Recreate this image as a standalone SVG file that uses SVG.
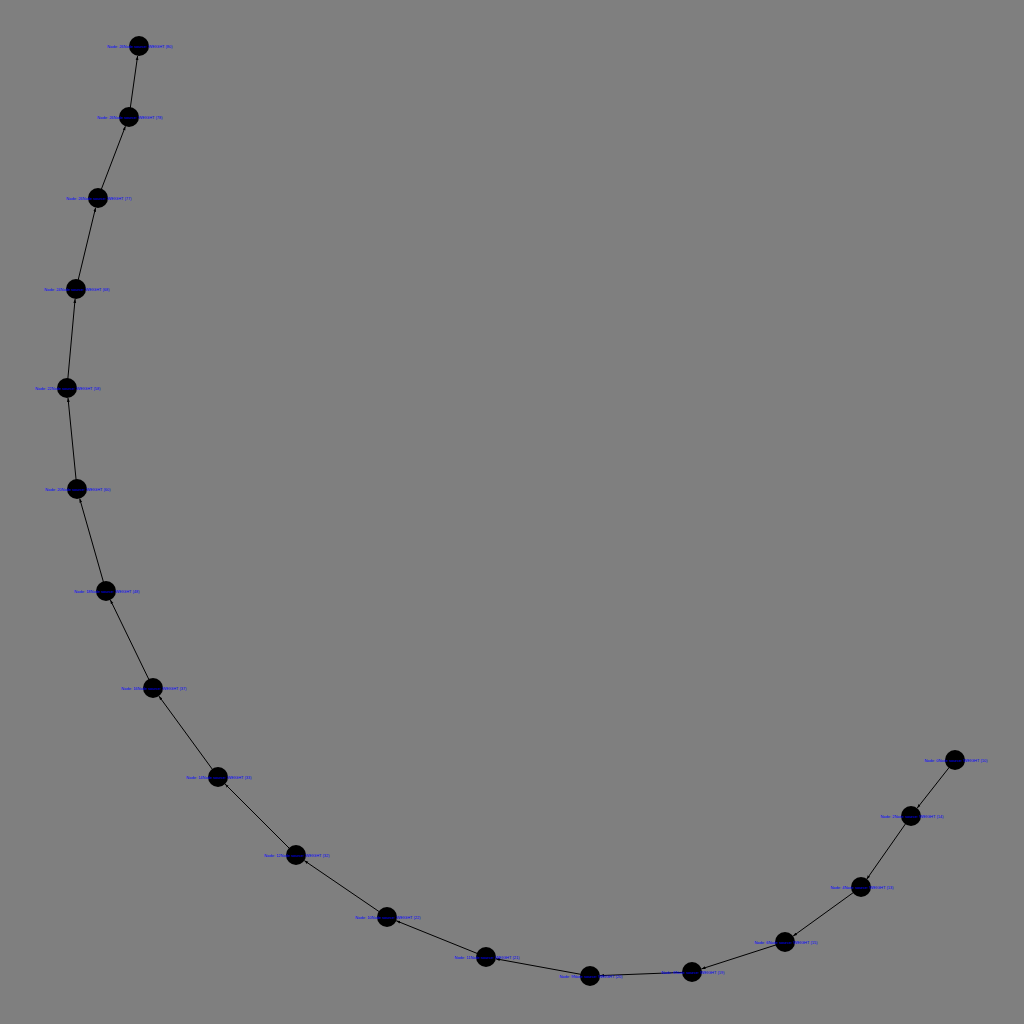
<svg xmlns="http://www.w3.org/2000/svg" width="1024" height="1024" viewBox="0 0 1024 1024">
<style>
.n{fill:#000}
.e{stroke:#000;stroke-width:1;fill:none;marker-end:url(#a)}
.t{font-family:"Liberation Sans",Arial,sans-serif;font-size:4px;fill:#0000ff;text-anchor:middle}
</style>
<defs>
<marker id="a" viewBox="0 0 10 10" refX="10" refY="5" markerWidth="4" markerHeight="4" orient="auto" markerUnits="userSpaceOnUse">
<path d="M0,1.5 L10,5 L0,8.5 z" fill="#000"/>
</marker>
</defs>
<rect width="1024" height="1024" fill="#7f7f7f"/>
<g id="edges">
<line class="e" x1="129" y1="117" x2="137.6" y2="56"/>
<line class="e" x1="98" y1="198" x2="125.4" y2="126.3"/>
<line class="e" x1="76" y1="289" x2="95.6" y2="207.7"/>
<line class="e" x1="67" y1="388" x2="75.1" y2="299"/>
<line class="e" x1="77" y1="489" x2="68" y2="398"/>
<line class="e" x1="106" y1="591" x2="79.7" y2="498.6"/>
<line class="e" x1="153" y1="688" x2="110.4" y2="600"/>
<line class="e" x1="218" y1="777" x2="158.9" y2="696.1"/>
<line class="e" x1="296" y1="855" x2="225.1" y2="784.1"/>
<line class="e" x1="387" y1="917" x2="304.3" y2="860.6"/>
<line class="e" x1="486" y1="957" x2="396.3" y2="920.8"/>
<line class="e" x1="590" y1="976" x2="495.8" y2="958.8"/>
<line class="e" x1="692" y1="972" x2="600" y2="975.6"/>
<line class="e" x1="785" y1="942" x2="701.5" y2="968.9"/>
<line class="e" x1="861" y1="887" x2="793.1" y2="936.1"/>
<line class="e" x1="911" y1="816" x2="866.7" y2="879.2"/>
<line class="e" x1="955" y1="760" x2="917.2" y2="808.1"/>
</g>
<g id="node1"><circle class="n" cx="139" cy="46" r="10"/><text class="t" x="140" y="47.5">Node: 26Node source: WEIGHT (80)</text></g>
<g id="node2"><circle class="n" cx="129" cy="117" r="10"/><text class="t" x="130" y="118.5">Node: 26Node source: WEIGHT (78)</text></g>
<g id="node3"><circle class="n" cx="98" cy="198" r="10"/><text class="t" x="99" y="199.5">Node: 26Node source: WEIGHT (77)</text></g>
<g id="node4"><circle class="n" cx="76" cy="289" r="10"/><text class="t" x="77" y="290.5">Node: 24Node source: WEIGHT (68)</text></g>
<g id="node5"><circle class="n" cx="67" cy="388" r="10"/><text class="t" x="68" y="389.5">Node: 22Node source: WEIGHT (58)</text></g>
<g id="node6"><circle class="n" cx="77" cy="489" r="10"/><text class="t" x="78" y="490.5">Node: 20Node source: WEIGHT (60)</text></g>
<g id="node7"><circle class="n" cx="106" cy="591" r="10"/><text class="t" x="107" y="592.5">Node: 18Node source: WEIGHT (48)</text></g>
<g id="node8"><circle class="n" cx="153" cy="688" r="10"/><text class="t" x="154" y="689.5">Node: 16Node source: WEIGHT (37)</text></g>
<g id="node9"><circle class="n" cx="218" cy="777" r="10"/><text class="t" x="219" y="778.5">Node: 14Node source: WEIGHT (33)</text></g>
<g id="node10"><circle class="n" cx="296" cy="855" r="10"/><text class="t" x="297" y="856.5">Node: 12Node source: WEIGHT (32)</text></g>
<g id="node11"><circle class="n" cx="387" cy="917" r="10"/><text class="t" x="388" y="918.5">Node: 10Node source: WEIGHT (22)</text></g>
<g id="node12"><circle class="n" cx="486" cy="957" r="10"/><text class="t" x="487" y="958.5">Node: 11Node source: WEIGHT (21)</text></g>
<g id="node13"><circle class="n" cx="590" cy="976" r="10"/><text class="t" x="591" y="977.5">Node: 9Node source: WEIGHT (20)</text></g>
<g id="node14"><circle class="n" cx="692" cy="972" r="10"/><text class="t" x="693" y="973.5">Node: 8Node source: WEIGHT (19)</text></g>
<g id="node15"><circle class="n" cx="785" cy="942" r="10"/><text class="t" x="786" y="943.5">Node: 6Node source: WEIGHT (15)</text></g>
<g id="node16"><circle class="n" cx="861" cy="887" r="10"/><text class="t" x="862" y="888.5">Node: 4Node source: WEIGHT (13)</text></g>
<g id="node17"><circle class="n" cx="911" cy="816" r="10"/><text class="t" x="912" y="817.5">Node: 2Node source: WEIGHT (14)</text></g>
<g id="node18"><circle class="n" cx="955" cy="760" r="10"/><text class="t" x="956" y="761.5">Node: 0Node source: WEIGHT (10)</text></g>
</svg>
